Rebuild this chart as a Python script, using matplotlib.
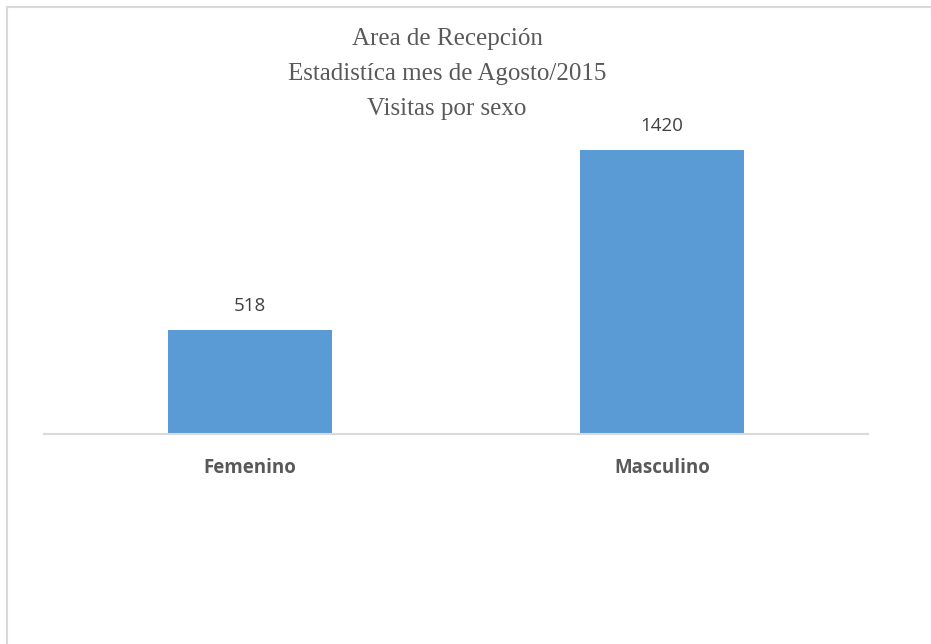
import matplotlib.pyplot as plt
from matplotlib.lines import Line2D

categorias = ['Femenino', 'Masculino']
visitas = [518, 1420]
titulo = 'Area de Recepción\nEstadistíca mes de Agosto/2015\nVisitas por sexo'

W, H = 931, 644
fig = plt.figure(figsize=(W / 100, H / 100), dpi=100)

# ejes en coordenadas de pixel
x0, x1 = 44, 868
y_base, y_top = 434, 110
ax = fig.add_axes([x0 / W, (H - y_base) / H, (x1 - x0) / W, (y_base - y_top) / H])

escala = (visitas[1]) / (y_base - 150)
ax.set_ylim(0, (y_base - y_top) * escala)
ax.set_xlim(-0.5, 1.5)

pos = range(len(categorias))
barras = ax.bar(pos, visitas, width=0.40, color='#5b9bd5')
for b, v in zip(barras, visitas):
    ax.annotate(str(v), (b.get_x() + b.get_width() / 2, v), xytext=(0, 11),
                textcoords='offset points', ha='center', va='bottom',
                fontsize=13.5, color='#404040', family='Open Sans')

ax.set_xticks(list(pos))
ax.set_xticklabels(categorias, fontsize=13.5, fontweight='bold', color='#595959',
                   family='Open Sans')
ax.tick_params(axis='x', length=0, pad=17.5)
ax.set_yticks([])
for s in ['top', 'right', 'left']:
    ax.spines[s].set_visible(False)
ax.spines['bottom'].set_color('#d9d9d9')
ax.spines['bottom'].set_linewidth(1.5)

fig.text(447 / W, 1 - 28 / H, titulo, ha='center', va='top', fontsize=18,
         color='#595959', family='Liberation Serif', linespacing=1.75)

# marco del grafico (solo se ven borde izquierdo y superior)
fig.add_artist(Line2D([7 / W, 7 / W], [0, 1 - 7 / H], color='#d9d9d9', lw=1.5))
fig.add_artist(Line2D([7 / W, 1], [1 - 7 / H, 1 - 7 / H], color='#d9d9d9', lw=1.5))

fig.savefig('out.png', dpi=100)
